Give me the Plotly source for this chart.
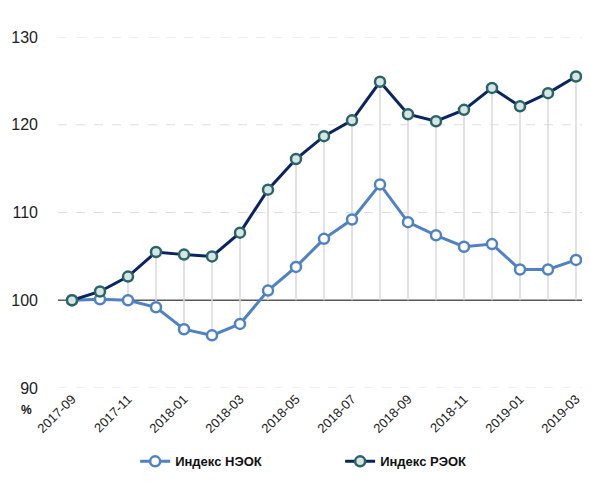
import plotly.graph_objects as go

months = ["2017-09", "2017-10", "2017-11", "2017-12", "2018-01", "2018-02", "2018-03",
          "2018-04", "2018-05", "2018-06", "2018-07", "2018-08", "2018-09", "2018-10",
          "2018-11", "2018-12", "2019-01", "2019-02", "2019-03"]
neok = [100.0, 100.1, 100.0, 99.2, 96.7, 96.0, 97.3, 101.1, 103.8, 107.0, 109.2,
        113.2, 108.9, 107.4, 106.1, 106.4, 103.5, 103.5, 104.6]
reok = [100.0, 101.0, 102.7, 105.5, 105.2, 105.0, 107.7, 112.6, 116.1, 118.7, 120.5,
        124.9, 121.2, 120.4, 121.7, 124.2, 122.1, 123.6, 125.5]
base = 100
tick_labels = months[::2]
y_ticks = [90, 100, 110, 120, 130]
grid_ticks = [v for v in y_ticks if v != base]

FONT = "Liberation Sans, Arial, sans-serif"

# high-low lines between the series and the base line
hx, hy = [], []
for m, a, b in zip(months, neok, reok):
    lo, hi = min(a, b, base), max(a, b, base)
    hx += [m, m, None]
    hy += [lo, hi, None]

fig = go.Figure()
fig.add_trace(go.Scatter(x=hx, y=hy, mode="lines", showlegend=False, hoverinfo="skip",
                         line=dict(color="#d9d9d9", width=1.5)))
fig.add_trace(go.Scatter(x=months, y=neok, mode="lines+markers", name="Индекс НЭОК",
                         line=dict(color="#4f81c4", width=3),
                         marker=dict(symbol="circle", size=10, color="#ffffff",
                                     line=dict(color="#4f81c4", width=2.5))))
fig.add_trace(go.Scatter(x=months, y=reok, mode="lines+markers", name="Индекс РЭОК",
                         line=dict(color="#0a2463", width=3),
                         marker=dict(symbol="circle", size=10, color="#d6e6e4",
                                     line=dict(color="#2b6466", width=2.5))))

for g in grid_ticks:
    fig.add_shape(type="line", xref="paper", x0=0, x1=1, yref="y", y0=g, y1=g,
                  line=dict(color="#dedede", width=1, dash="dash"), layer="below")
fig.add_shape(type="line", xref="paper", x0=0, x1=1, yref="y", y0=base, y1=base,
              line=dict(color="#595959", width=1.5), layer="below")

# the page body has an 8px margin, so the figure is 8px smaller than the window
fig.update_layout(
    width=582, height=474,
    margin=dict(l=50, r=0, t=29, b=94),
    plot_bgcolor="white", paper_bgcolor="white",
    font=dict(family=FONT, color="#222222"),
    xaxis=dict(type="category", range=[-0.5, len(months) - 0.5], automargin=False,
               tickmode="array", tickvals=tick_labels, ticktext=tick_labels,
               tickangle=-45, tickfont=dict(size=13), showgrid=False,
               showline=False, ticks="", zeroline=False),
    yaxis=dict(range=[90, 130], tickvals=y_ticks, tickfont=dict(size=16),
               automargin=False, showgrid=False,
               zeroline=False, showline=False, ticks="", ticklabelstandoff=19),
    legend=dict(orientation="h", x=0.145, xanchor="left", y=-0.209, yanchor="middle",
                font=dict(size=13, family=FONT, color="#111111", weight="bold"),
                itemwidth=30, tracegroupgap=0, entrywidth=160),
    annotations=[dict(text="<b>%</b>", x=0, xref="paper", xanchor="right", xshift=-24,
                      y=90, yref="y", yshift=-22, showarrow=False,
                      font=dict(size=12, color="#111111"))],
)

fig.write_html("out.html")
